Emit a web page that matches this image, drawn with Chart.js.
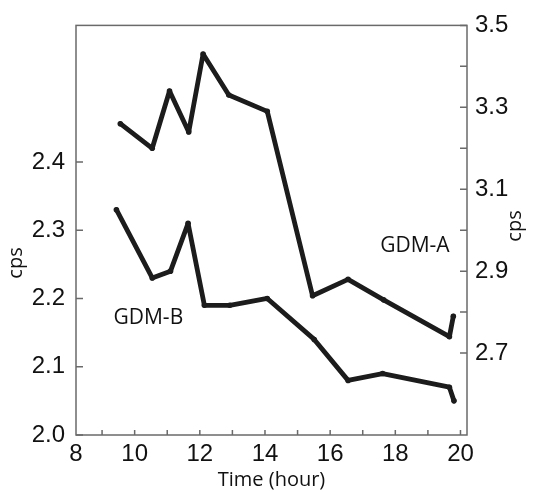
<!DOCTYPE html>
<html>
<head>
<meta charset="utf-8">
<script src="https://cdn.jsdelivr.net/npm/chart.js@4.4.0/dist/chart.umd.min.js"></script>
<style>
  body { margin: 0; background: #fff; }
  canvas { display: block; }
</style>
</head>
<body>
<canvas id="chart" width="535" height="492"></canvas>
<script>
// data
const hoursA = [9.56, 10.54, 11.07, 11.66, 12.10, 12.89, 14.07, 15.46, 16.55, 17.64, 19.66, 19.78];
const gdmA   = [3.26, 3.20, 3.34, 3.24, 3.43, 3.33, 3.29, 2.84, 2.88, 2.83, 2.74, 2.79];
const hoursB = [9.44, 10.54, 11.10, 11.64, 12.14, 12.92, 14.07, 15.51, 16.55, 17.61, 19.66, 19.80];
const gdmB   = [2.33, 2.23, 2.24, 2.31, 2.19, 2.19, 2.20, 2.14, 2.08, 2.09, 2.07, 2.05];

// tick values
const xTicks = [8.2, 9, 10, 11, 12, 13, 14, 15, 16, 17, 18, 19, 20];
const xLabels = ['8', '', '10', '', '12', '', '14', '', '16', '', '18', '', '20'];
const leftTicks = [2.0, 2.1, 2.2, 2.3, 2.4];
const rightTicks = [2.7, 2.8, 2.9, 3.0, 3.1, 3.2, 3.3, 3.4, 3.5];
const rightLabels = ['2.7', '', '2.9', '', '3.1', '', '3.3', '', '3.5'];

const axisColor = '#6a6a6a';
const lineColor = '#1c1c1c';
const tickFont = { family: 'Liberation Sans', size: 24 };

function toPoints(xs, ys) {
    return xs.map((x, i) => ({ x: x, y: ys[i] }));
}

// box, inward tick marks, axis titles and series labels
const frame = {
    id: 'frame',
    afterDraw(chart) {
        const ctx = chart.ctx;
        const a = chart.chartArea;
        const sx = chart.scales.x, sl = chart.scales.yL, sr = chart.scales.yR;
        ctx.save();
        ctx.strokeStyle = axisColor;
        ctx.lineWidth = 1.5;
        ctx.strokeRect(a.left, a.top, a.right - a.left, a.bottom - a.top);
        ctx.beginPath();
        xTicks.slice(1).forEach(v => {
            const px = sx.getPixelForValue(v);
            ctx.moveTo(px, a.bottom);
            ctx.lineTo(px, a.bottom - 5);
        });
        leftTicks.forEach(v => {
            const py = sl.getPixelForValue(v);
            ctx.moveTo(a.left, py);
            ctx.lineTo(a.left + 7, py);
        });
        rightTicks.forEach(v => {
            const py = sr.getPixelForValue(v);
            ctx.moveTo(a.right, py);
            ctx.lineTo(a.right - 7, py);
        });
        ctx.stroke();

        ctx.fillStyle = '#111';
        ctx.font = '21px "Open Sans"';
        ctx.textAlign = 'center';
        ctx.textBaseline = 'middle';
        ctx.fillText('GDM-A', sx.getPixelForValue(18.6), sr.getPixelForValue(2.962));
        ctx.fillText('GDM-B', sx.getPixelForValue(10.42), sl.getPixelForValue(2.171));

        ctx.font = '20px "Open Sans"';
        ctx.translate(16, 263);
        ctx.rotate(-Math.PI / 2);
        ctx.fillText('cps', 0, 0);
        ctx.setTransform(1, 0, 0, 1, 0, 0);
        ctx.translate(515, 226);
        ctx.rotate(-Math.PI / 2);
        ctx.fillText('cps', 0, 0);
        ctx.restore();
    }
};

const lineStyle = {
    borderColor: lineColor,
    backgroundColor: lineColor,
    borderWidth: 4.8,
    pointRadius: 2.8,
    pointBorderWidth: 0,
    borderJoinStyle: 'round',
    borderCapStyle: 'round',
    tension: 0,
    fill: false
};

new Chart(document.getElementById('chart'), {
    type: 'line',
    data: {
        datasets: [
            Object.assign({ label: 'GDM-A', data: toPoints(hoursA, gdmA), yAxisID: 'yR' }, lineStyle),
            Object.assign({ label: 'GDM-B', data: toPoints(hoursB, gdmB), yAxisID: 'yL' }, lineStyle)
        ]
    },
    options: {
        responsive: false,
        animation: false,
        layout: { padding: { top: 21, left: 0, right: 0, bottom: 0 } },
        plugins: { legend: { display: false }, tooltip: { enabled: false } },
        scales: {
            x: {
                type: 'linear',
                min: 8.2,
                max: 20.2,
                afterBuildTicks: s => { s.ticks = xTicks.map(v => ({ value: v })); },
                afterFit: s => { s.height = 57; },
                grid: { display: false, drawTicks: false },
                border: { display: false },
                ticks: {
                    autoSkip: false,
                    maxRotation: 0,
                    padding: 5,
                    color: '#111',
                    font: tickFont,
                    callback: (v, i) => xLabels[i]
                },
                title: {
                    display: true,
                    text: 'Time (hour)',
                    color: '#111',
                    font: { family: 'Open Sans', size: 20 },
                    padding: { top: 0, bottom: 0 }
                }
            },
            yL: {
                position: 'left',
                min: 2.0,
                max: 2.6,
                afterBuildTicks: s => { s.ticks = leftTicks.map(v => ({ value: v })); },
                afterFit: s => { s.width = 76; },
                grid: { display: false, drawTicks: false },
                border: { display: false },
                ticks: {
                    padding: 11,
                    color: '#111',
                    font: tickFont,
                    callback: v => v.toFixed(1)
                }
            },
            yR: {
                position: 'right',
                min: 2.5,
                max: 3.5,
                afterBuildTicks: s => { s.ticks = rightTicks.map(v => ({ value: v })); },
                afterFit: s => { s.width = 68; },
                grid: { display: false, drawTicks: false },
                border: { display: false },
                ticks: {
                    padding: 8,
                    color: '#111',
                    font: tickFont,
                    callback: (v, i) => rightLabels[i]
                }
            }
        }
    },
    plugins: [frame]
});
</script>
</body>
</html>
